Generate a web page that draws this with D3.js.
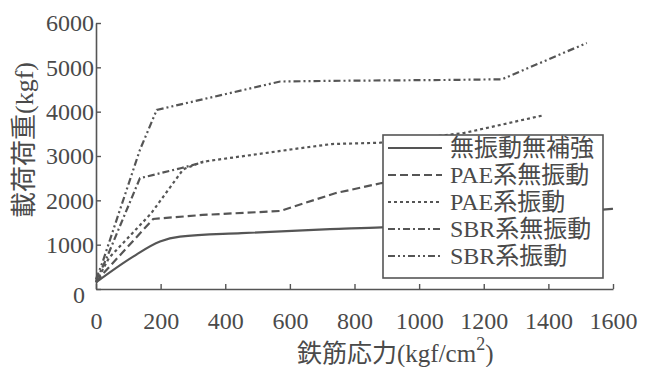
<!DOCTYPE html>
<html><head><meta charset="utf-8">
<script src="https://cdn.jsdelivr.net/npm/d3@7"></script>
<style>
html,body{margin:0;padding:0;background:#fff;}
svg{display:block;}
text{font-family:"Liberation Serif","Noto Sans CJK JP",serif;fill:#4a4a4a;}
</style></head>
<body>
<svg id="chart" width="648" height="367"></svg>
<script>
// ---- data ----
const seriesNames = ["無振動無補強","PAE系無振動","PAE系振動","SBR系無振動","SBR系振動"];
const xTicks = [0,200,400,600,800,1000,1200,1400,1600];
const yTicks = [0,1000,2000,3000,4000,5000,6000];
const noVibNoReinf = [[0,150],[115,730],[198,1070],[260,1180],[450,1260],[724,1350],[884,1390],[1250,1600],[1600,1810]];
const paeNoVib = [[0,150],[20,330],[177,1580],[330,1670],[570,1760],[740,2160],[884,2390],[1050,2550]];
const paeVib = [[0,150],[40,700],[170,1700],[270,2700],[330,2870],[631,3175],[730,3270],[880,3300],[1140,3520],[1380,3910]];
const sbrNoVib = [[0,180],[30,650],[136,2500],[265,2730],[342,2880]];
const sbrVib = [[0,220],[20,600],[136,3140],[188,4040],[570,4680],[724,4695],[1085,4715],[1256,4730],[1519,5550]];
const allSeries = [noVibNoReinf, paeNoVib, paeVib, sbrNoVib, sbrVib];
const dashes = ["none","8,4","3,3","7,3,2,3","7,3,2,3,2,3"];

const svg = d3.select("#chart");
const x = d3.scaleLinear().domain([0,1600]).range([96,613]);
const y = d3.scaleLinear().domain([0,6000]).range([289,23]);
const ink = "#555";

// axes
const gx = svg.append("g").attr("transform","translate(0,289)")
  .call(d3.axisBottom(x).tickValues(xTicks).tickSizeInner(-5).tickSizeOuter(0).tickPadding(23).tickFormat(d3.format("d")));
const gy = svg.append("g").attr("transform","translate(96,0)")
  .call(d3.axisLeft(y).tickValues(yTicks).tickSizeInner(-5).tickSizeOuter(0).tickPadding(2).tickFormat(d3.format("d")));
[gx,gy].forEach(g=>{
  g.select(".domain").attr("stroke",ink).attr("stroke-width",1.6);
  g.selectAll(".tick line").attr("stroke",ink).attr("stroke-width",1.4);
  g.selectAll(".tick text").attr("fill","#4a4a4a").style("font-size","24px").style("font-family","'Liberation Serif',serif");
});
gy.selectAll(".tick").filter(d=>d===0).select("text").attr("x",-11).attr("dy","0.55em");

// lines
const line = d3.line().x(d=>x(d[0])).y(d=>y(d[1]));
const smooth = d3.line().x(d=>x(d[0])).y(d=>y(d[1])).curve(d3.curveMonotoneX);
allSeries.forEach((s,i)=>{
  svg.append("path").datum(s).attr("d",i===0?smooth:line).attr("fill","none")
    .attr("stroke",ink).attr("stroke-width",2.2)
    .attr("stroke-dasharray",dashes[i]==="none"?null:dashes[i]);
});

// legend
const lg = svg.append("g").attr("transform","translate(383,135)");
lg.append("rect").attr("width",220).attr("height",143).attr("fill","#fff").attr("stroke",ink).attr("stroke-width",1.6);
seriesNames.forEach((n,i)=>{
  const cy = 13 + i*27;
  lg.append("line").attr("x1",5).attr("x2",59).attr("y1",cy).attr("y2",cy)
    .attr("stroke",ink).attr("stroke-width",2)
    .attr("stroke-dasharray",dashes[i]==="none"?null:dashes[i]);
  lg.append("text").attr("x",67).attr("y",cy+8).style("font-size","24px").text(n);
});

// axis titles
const xt = svg.append("text").attr("x",297).attr("y",362).style("font-size","25px");
xt.append("tspan").text("鉄筋応力(kgf/cm");
xt.append("tspan").attr("dy",-12).style("font-size","18px").text("2");
xt.append("tspan").attr("dy",12).text(")");

svg.append("text").attr("transform","translate(33,140) rotate(-90)")
  .attr("text-anchor","middle").style("font-size","26px").text("載荷荷重(kgf)");
</script>
</body></html>
